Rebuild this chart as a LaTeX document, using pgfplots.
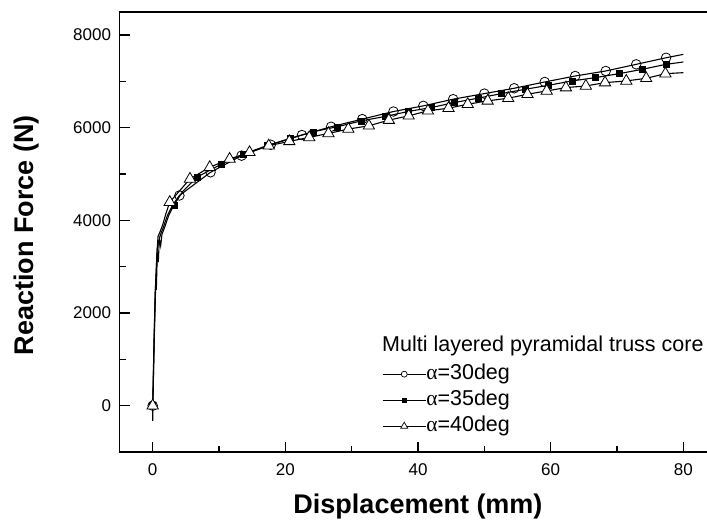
\documentclass[border=0pt]{standalone}
\usepackage{pgfplots}
\pgfplotsset{compat=1.18}
\usepackage{fontspec}
\setmainfont{Liberation Sans}
\newfontfamily\grk{Liberation Serif}

% alpha = 30 deg
\pgfplotstableread{
x y
0 0
0.12 700
0.25 1600
0.4 2500
0.55 3000
0.7 3400
0.9 3550
1.2 3700
1.6 3850
2.2 4100
3.0 4330
4.03 4538
8.72 5039
13.4 5398
17.8 5634
22.5 5843
26.9 6022
31.6 6187
36.3 6351
40.8 6473
45.3 6617
50.0 6738
54.5 6853
59.1 6989
63.7 7118
68.3 7226
72.9 7370
77.4 7512
80 7585
}\lineA
\pgfplotstableread{
x y
0 0
4.03 4538
8.72 5039
13.4 5398
17.8 5634
22.5 5843
26.9 6022
31.6 6187
36.3 6351
40.8 6473
45.3 6617
50.0 6738
54.5 6853
59.1 6989
63.7 7118
68.3 7226
72.9 7370
77.4 7512
}\markA

% alpha = 35 deg
\pgfplotstableread{
x y
0 0
0 -330
0.15 900
0.3 1800
0.45 2600
0.55 2500
0.7 3300
0.85 3100
1.0 3600
1.2 3450
1.4 3700
1.8 3850
2.4 4100
3.2 4330
4.5 4620
6.66 4932
10.4 5219
13.7 5434
17.2 5613
20.7 5770
24.2 5914
27.8 6022
31.5 6151
35.0 6243
38.5 6351
42.0 6437
45.5 6545
49.0 6638
52.6 6738
56.2 6832
59.7 6918
63.2 7011
66.7 7082
70.3 7168
73.8 7262
77.4 7370
80 7420
}\lineB
\pgfplotstableread{
x y
0 0
3.2 4330
6.66 4932
10.4 5219
13.7 5434
17.2 5613
20.7 5770
24.2 5914
27.8 6022
31.5 6151
35.0 6243
38.5 6351
42.0 6437
45.5 6545
49.0 6638
52.6 6738
56.2 6832
59.7 6918
63.2 7011
66.7 7082
70.3 7168
73.8 7262
77.4 7370
}\markB

% alpha = 40 deg
\pgfplotstableread{
x y
0 0
0.2 1400
0.35 2300
0.5 2800
0.65 3300
0.8 3650
1.1 3750
1.5 3900
2.0 4150
2.57 4394
5.62 4896
8.6 5147
11.6 5326
14.6 5470
17.5 5613
20.6 5706
23.6 5792
26.5 5878
29.5 5972
32.6 6043
35.6 6165
38.6 6258
41.5 6366
44.6 6423
47.5 6509
50.5 6581
53.6 6638
56.5 6724
59.4 6796
62.3 6867
65.3 6903
68.2 6975
71.4 7011
74.4 7068
77.3 7168
80 7190
}\lineC
\pgfplotstableread{
x y
0 0
2.57 4394
5.62 4896
8.6 5147
11.6 5326
14.6 5470
17.5 5613
20.6 5706
23.6 5792
26.5 5878
29.5 5972
32.6 6043
35.6 6165
38.6 6258
41.5 6366
44.6 6423
47.5 6509
50.5 6581
53.6 6638
56.5 6724
59.4 6796
62.3 6867
65.3 6903
68.2 6975
71.4 7011
74.4 7068
77.3 7168
}\markC

\begin{document}
\begin{tikzpicture}
\begin{axis}[
    scale only axis,
    width=597pt, height=440pt,
    xmin=-5, xmax=85,
    ymin=-1000, ymax=8500,
    xtick={0,20,...,80},
    ytick={0,2000,...,8000},
    minor x tick num=1,
    minor y tick num=1,
    tick pos=left,
    tick align=inside,
    major tick length=10pt,
    minor tick length=6pt,
    axis line style={line width=1.3pt},
    every tick/.style={black, line width=1.3pt},
    /pgf/number format/assume math mode=true,
    /pgf/number format/1000 sep={},
    yticklabel style={font=\fontsize{17}{19}\selectfont, xshift=-5pt},
    xticklabel style={font=\fontsize{17}{19}\selectfont, yshift=-8pt},
    xlabel={Displacement (mm)},
    ylabel={Reaction Force (N)},
    label style={font=\fontsize{27}{30}\selectfont\bfseries},
    xlabel style={at={(rel axis cs:0.5,-0.125)}, anchor=center},
    ylabel style={at={(rel axis cs:-0.1566,0.493)}, anchor=center},
    legend cell align=left,
    legend image code/.code={
        \draw[mark repeat=2, mark phase=2, #1] plot coordinates {(0pt,0pt) (21.5pt,0pt) (43pt,0pt)};
    },
    legend style={
        at={(axis cs:34.57,900)}, anchor=north west,
        draw=none, fill=none, inner sep=0pt, row sep=6pt,
        font=\fontsize{21.5}{24}\selectfont,
        nodes={inner sep=0pt, text height=15pt, text depth=5pt},
        /tikz/every even column/.append style={column sep=8pt},
    },
]

\addplot[black, line width=1.1pt, forget plot] table {\lineA};
\addplot[only marks, mark=o, mark size=4.8pt, mark options={fill=white, line width=0.8pt}, forget plot] table {\markA};

\addplot[black, line width=1.1pt, forget plot] table {\lineB};
\addplot[only marks, mark=square*, mark size=3pt, mark options={fill=black}, forget plot] table {\markB};

\addplot[black, line width=1.1pt, forget plot] table {\lineC};
\addplot[only marks, mark=triangle*, mark size=6.5pt, mark options={fill=white, line width=0.8pt}, forget plot] table {\markC};

\addlegendimage{black, line width=1.1pt, mark=*, mark size=3pt, mark options={fill=white, line width=0.7pt}}
\addlegendentry{{\grk α}=30deg}
\addlegendimage{black, line width=1.1pt, mark=square*, mark size=2pt, mark options={fill=black}}
\addlegendentry{{\grk α}=35deg}
\addlegendimage{black, line width=1.1pt, mark=triangle*, mark size=4pt, mark options={fill=white, line width=0.7pt}}
\addlegendentry{{\grk α}=40deg}

\node[anchor=base west, font=\fontsize{21.5}{24}\selectfont, inner sep=0pt] at (axis cs:34.57,1165) {Multi layered pyramidal truss core};

\coordinate (bbsw) at (axis cs:-23.02,-2576);
\coordinate (bbne) at (axis cs:83.57,8759);
\end{axis}
\pgfresetboundingbox
\useasboundingbox (bbsw) rectangle (bbne);
\end{tikzpicture}
\end{document}
